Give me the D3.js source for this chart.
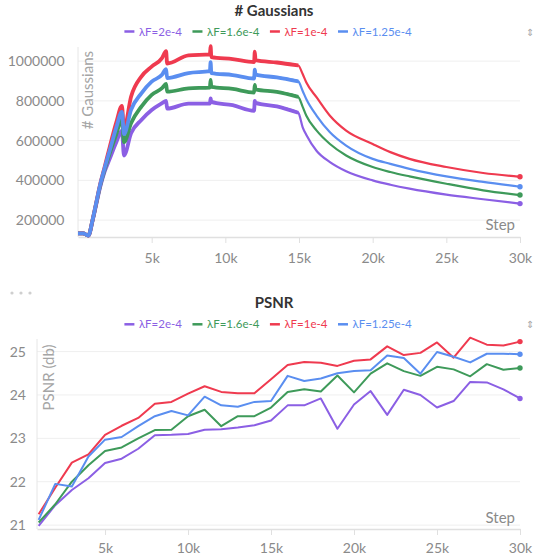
<!DOCTYPE html>
<html>
<head>
<meta charset="utf-8">
<script src="https://cdn.jsdelivr.net/npm/d3@7"></script>
<style>
  body { margin: 0; background: #fff; }
  svg { display: block; font-family: Lato, "Noto Sans", sans-serif; }
</style>
</head>
<body>
<svg id="chart" width="533" height="559"></svg>
<script>
// series names + colours (same order in both panels, blue drawn last)
var seriesNames = ["λF=2e-4", "λF=1.6e-4", "λF=1e-4", "λF=1.25e-4"];
var seriesColors = ["#8b5fe4", "#3e9a5a", "#ef3a4f", "#5a8ef0"];

var stepTicks = [5000, 10000, 15000, 20000, 25000, 30000];
var stepLabels = ["5k", "10k", "15k", "20k", "25k", "30k"];

// # Gaussians panel
var gaussTicks = [200000, 400000, 600000, 800000, 1000000];
var gaussSteps = [0, 350, 700, 1000, 1250, 1500, 1800, 2150, 2600, 2980, 3120, 3600, 4300, 5000, 5700, 5980, 6050,
  7500, 8950, 9000, 9050, 10500, 11950, 12000, 12050, 13500, 14950, 15250, 15500, 16200, 17100, 18200,
  20000, 21200, 22500, 25000, 27500, 30000];
var gaussPurple = [133000, 133000, 122000, 200000, 283000, 365000, 442000, 508000, 592000, 650000, 525000, 637000,
  704000, 754000, 788000, 800000, 761000, 786000, 786000, 812000, 795000, 778000, 750000, 800000, 790000, 772000,
  740000, 667000, 628000, 548000, 492000, 446000, 400000, 378000, 358000, 328000, 305000, 283000];
var gaussGreen = [133000, 133000, 122000, 203000, 288000, 372000, 452000, 535000, 633000, 708000, 592000, 688000,
  771000, 830000, 864000, 885000, 846000, 863000, 867000, 906000, 870000, 860000, 842000, 880000, 858000, 845000,
  820000, 770000, 725000, 650000, 583000, 525000, 467000, 442000, 420000, 383000, 350000, 326000];
var gaussRed = [133000, 133000, 122000, 205000, 292000, 380000, 465000, 567000, 692000, 775000, 658000, 821000,
  922000, 972000, 1015000, 1050000, 988000, 1029000, 1034000, 1075000, 1020000, 1010000, 995000, 1048000, 1005000,
  993000, 978000, 935000, 892000, 817000, 725000, 650000, 583000, 542000, 508000, 467000, 437000, 418000];
var gaussBlue = [133000, 133000, 122000, 205000, 292000, 377000, 460000, 550000, 667000, 745000, 633000, 755000,
  838000, 897000, 931000, 960000, 915000, 940000, 949000, 995000, 940000, 930000, 912000, 957000, 932000, 918000,
  898000, 850000, 808000, 725000, 642000, 575000, 508000, 483000, 458000, 420000, 392000, 368000];

// PSNR panel
var psnrTicks = [21, 22, 23, 24, 25];
var psnrSteps = [1000, 2000, 3000, 4000, 5000, 6000, 7000, 8000, 9000, 10000, 11000, 12000, 13000, 14000, 15000,
  16000, 17000, 18000, 19000, 20000, 21000, 22000, 23000, 24000, 25000, 26000, 27000, 28000, 29000, 30000];
var psnrPurple = [20.98, 21.46, 21.81, 22.08, 22.43, 22.53, 22.76, 23.07, 23.08, 23.10, 23.20, 23.21, 23.25, 23.30, 23.41,
  23.76, 23.76, 23.92, 23.22, 23.78, 24.09, 23.54, 24.12, 24.00, 23.71, 23.86, 24.30, 24.29, 24.13, 23.92];
var psnrGreen = [21.06, 21.48, 22.00, 22.38, 22.71, 22.79, 23.00, 23.19, 23.20, 23.51, 23.66, 23.28, 23.51, 23.51, 23.71,
  24.07, 24.13, 24.08, 24.45, 24.06, 24.49, 24.73, 24.55, 24.44, 24.65, 24.59, 24.43, 24.71, 24.58, 24.62];
var psnrRed = [21.25, 21.86, 22.44, 22.63, 23.08, 23.29, 23.47, 23.80, 23.84, 24.03, 24.20, 24.07, 24.04, 24.04, 24.36,
  24.69, 24.76, 24.74, 24.67, 24.79, 24.82, 25.12, 24.92, 24.97, 25.21, 24.86, 25.32, 25.16, 25.14, 25.23];
var psnrBlue = [21.12, 21.95, 21.89, 22.58, 22.97, 23.03, 23.28, 23.51, 23.63, 23.53, 23.96, 23.76, 23.73, 23.84, 23.86,
  24.44, 24.32, 24.38, 24.50, 24.55, 24.57, 24.91, 24.85, 24.49, 24.99, 24.88, 24.75, 24.95, 24.95, 24.94];

var svg = d3.select('#chart');

function drawPanel(cfg) {
  var g = svg.append('g');
  var x = d3.scaleLinear().domain(cfg.xDomain).range([cfg.left, cfg.right]);
  var y = d3.scaleLinear().domain(cfg.yDomain).range([cfg.bottom, cfg.top]);

  // title
  g.append('text')
    .attr('x', 274).attr('y', cfg.titleY)
    .attr('text-anchor', 'middle')
    .style('font-size', '15px').style('font-weight', 'bold')
    .attr('fill', '#333')
    .text(cfg.title);

  // legend, centred
  var legend = g.append('g');
  var lx = 0;
  seriesNames.forEach(function(name, i) {
    legend.append('line')
      .attr('x1', lx).attr('x2', lx + 10)
      .attr('y1', cfg.legendY - 4).attr('y2', cfg.legendY - 4)
      .attr('stroke', seriesColors[i]).attr('stroke-width', 2.5);
    var t = legend.append('text')
      .attr('x', lx + 14.5).attr('y', cfg.legendY)
      .style('font-size', '11.5px')
      .attr('fill', seriesColors[i])
      .text(name);
    lx += 14.5 + t.node().getComputedTextLength() + 10.5;
  });
  legend.attr('transform', 'translate(' + (268 - (lx - 10.5) / 2) + ',0)');

  g.append('text')
    .attr('x', 526).attr('y', cfg.legendY)
    .style('font-family', 'DejaVu Sans').style('font-size', '10px')
    .attr('fill', '#aaa')
    .text('⇕');

  // horizontal grid
  g.selectAll('line.grid')
    .data(cfg.yTicks)
    .enter()
    .append('line')
      .attr('class', 'grid')
      .attr('x1', cfg.left).attr('x2', cfg.right)
      .attr('y1', function(d) { return y(d); })
      .attr('y2', function(d) { return y(d); })
      .attr('stroke', '#efefef');

  // left axis line
  g.append('line')
    .attr('x1', cfg.left).attr('x2', cfg.left)
    .attr('y1', cfg.top).attr('y2', cfg.bottom)
    .attr('stroke', '#e6e6e6');

  var yAxis = g.append('g')
    .attr('transform', 'translate(' + cfg.left + ',0)')
    .call(d3.axisLeft(y).tickValues(cfg.yTicks).tickSize(0).tickPadding(cfg.yPad).tickFormat(d3.format('d')));
  yAxis.select('.domain').remove();
  yAxis.selectAll('text')
    .style('font-family', 'Lato, sans-serif').style('font-size', '14px')
    .attr('fill', '#8a8a8a');

  var xAxis = g.append('g')
    .attr('transform', 'translate(0,' + cfg.bottom + ')')
    .call(d3.axisBottom(x).tickValues(stepTicks).tickSize(6).tickSizeOuter(0)
      .tickFormat(function(d, i) { return stepLabels[i]; }));
  xAxis.select('.domain').attr('stroke', '#e0e0e0').attr('stroke-width', 1.5);
  xAxis.selectAll('.tick line').attr('stroke', '#e0e0e0');
  xAxis.selectAll('text')
    .attr('y', cfg.xLabelDy).attr('dy', null)
    .style('font-family', 'Lato, sans-serif').style('font-size', '14px')
    .attr('fill', '#8a8a8a');

  // axis titles
  g.append('text')
    .attr('transform', 'translate(' + cfg.yLabelX + ',' + cfg.yLabelTop + ') rotate(-90)')
    .attr('text-anchor', 'end')
    .attr('dominant-baseline', 'central')
    .style('font-size', '15px')
    .attr('fill', '#a5a5a5')
    .text(cfg.yLabel);

  g.append('text')
    .attr('x', 515).attr('y', cfg.stepY)
    .attr('text-anchor', 'end')
    .style('font-size', '15px')
    .attr('fill', '#8a8a8a')
    .text('Step');

  // lines
  var line = d3.line()
    .x(function(d) { return x(d[0]); })
    .y(function(d) { return y(d[1]); })
    .curve(cfg.curve);

  cfg.series.forEach(function(vals, i) {
    var pts = d3.zip(cfg.steps, vals);
    g.append('path')
      .datum(pts)
      .attr('fill', 'none')
      .attr('stroke', seriesColors[i])
      .attr('stroke-width', cfg.lineWidth)
      .attr('stroke-linejoin', 'round')
      .attr('d', line);
    if (cfg.thickUntil) {
      // noisy band up to the end of densification
      g.append('path')
        .datum(pts.filter(function(d) { return d[0] <= cfg.thickUntil; }))
        .attr('fill', 'none')
        .attr('stroke', seriesColors[i])
        .attr('stroke-width', 3.8)
        .attr('stroke-linejoin', 'round')
        .attr('d', line);
    }
    var last = pts[pts.length - 1];
    g.append('circle')
      .attr('cx', x(last[0])).attr('cy', y(last[1]))
      .attr('r', 2.7)
      .attr('fill', seriesColors[i]);
  });
}

drawPanel({
  title: '# Gaussians', titleY: 15.5, legendY: 35.5,
  left: 78, right: 520, top: 47, bottom: 237,
  xDomain: [0, 30000], yDomain: [115000, 1071000],
  yTicks: gaussTicks, yPad: 13.5, xLabelDy: 25.7,
  yLabel: '# Gaussians', yLabelX: 87, yLabelTop: 51,
  stepY: 230,
  steps: gaussSteps, series: [gaussPurple, gaussGreen, gaussRed, gaussBlue],
  curve: d3.curveMonotoneX, lineWidth: 2.2, thickUntil: 15000
});

// "..." menu dots
svg.selectAll('circle.menu')
  .data([12, 21, 30])
  .enter()
  .append('circle')
    .attr('class', 'menu')
    .attr('cx', function(d) { return d; })
    .attr('cy', 293)
    .attr('r', 1.6)
    .attr('fill', '#cfcfcf');

drawPanel({
  title: 'PSNR', titleY: 308, legendY: 328.3,
  left: 37, right: 520, top: 339, bottom: 529,
  xDomain: [900, 30000], yDomain: [20.91, 25.29],
  yTicks: psnrTicks, yPad: 11, xLabelDy: 24,
  yLabel: 'PSNR (db)', yLabelX: 47.6, yLabelTop: 344.6,
  stepY: 522.5,
  steps: psnrSteps, series: [psnrPurple, psnrGreen, psnrRed, psnrBlue],
  curve: d3.curveLinear, lineWidth: 2, thickUntil: 0
});
</script>
</body>
</html>
